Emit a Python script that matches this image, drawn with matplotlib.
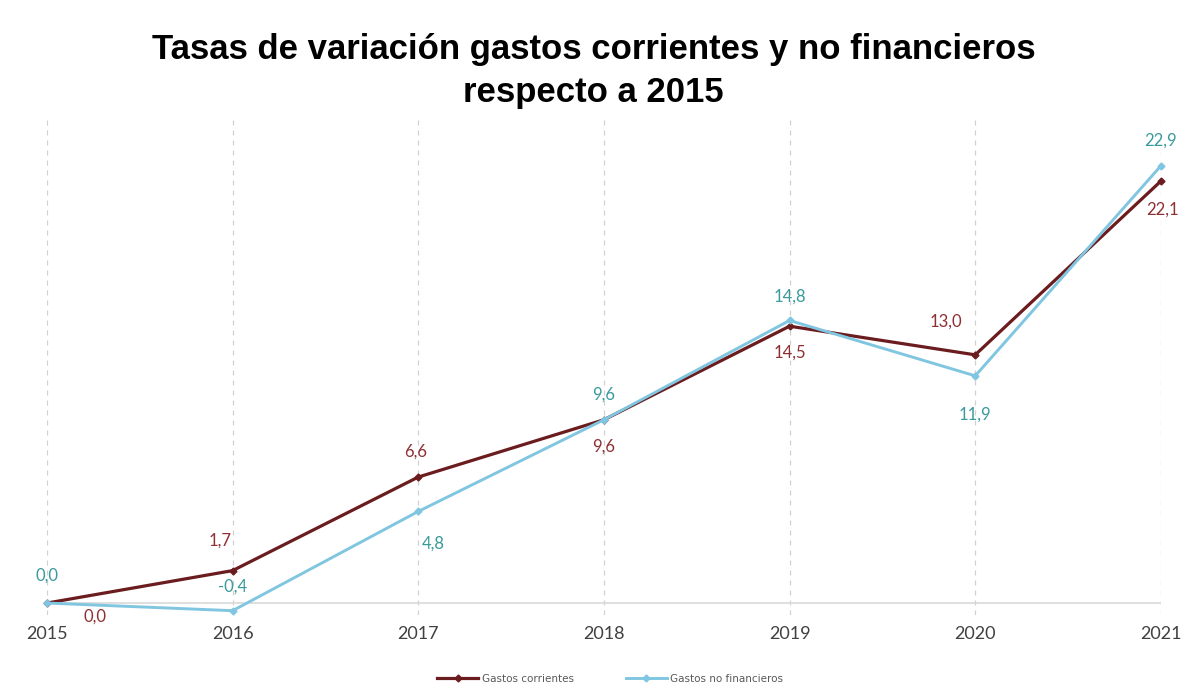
import matplotlib.pyplot as plt

# datos
anios = [2015, 2016, 2017, 2018, 2019, 2020, 2021]
gastos_corrientes = [0.0, 1.7, 6.6, 9.6, 14.5, 13.0, 22.1]
gastos_no_financieros = [0.0, -0.4, 4.8, 9.6, 14.8, 11.9, 22.9]

# desplazamiento de etiquetas (pixeles)
off_corr = [(48, -14), (-13, 30), (-3, 25), (0, -27), (0, -26), (-29, 33), (2, -29)]
off_nof = [(0, 27), (0, 24), (15, -32), (0, 25), (0, 24), (0, -39), (0, 25)]

col_corr = "#6b1c1f"
col_corr_txt = "#8e3033"
col_nof = "#80c6e0"
col_nof_txt = "#3a9a9c"

fig = plt.figure(figsize=(11.87, 6.90), dpi=100)
ax = fig.add_axes([0.0396, 0.1094, 0.9384, 0.7167])

ax.plot(anios, gastos_corrientes, color=col_corr, lw=2.3, marker="D", ms=3.5,
        label="Gastos corrientes", clip_on=False, zorder=3)
ax.plot(anios, gastos_no_financieros, color=col_nof, lw=2.1, marker="D", ms=3.5,
        label="Gastos no financieros", clip_on=False, zorder=4)

for x, v, o in zip(anios, gastos_corrientes, off_corr):
    ax.annotate(f"{v:.1f}".replace(".", ","), (x, v), xytext=o, textcoords="offset pixels",
                ha="center", va="center", color=col_corr_txt, fontsize=12, family="Lato")
for x, v, o in zip(anios, gastos_no_financieros, off_nof):
    ax.annotate(f"{v:.1f}".replace(".", ","), (x, v), xytext=o, textcoords="offset pixels",
                ha="center", va="center", color=col_nof_txt, fontsize=12, family="Lato")

ax.set_xlim(2015, 2021)
ax.set_ylim(-0.6, 25.3)
ax.set_xticks(anios)
ax.set_xticklabels([str(a) for a in anios], fontsize=13, color="#404040", family="Lato")
ax.set_yticks([])
ax.tick_params(axis="x", length=0, pad=8)
for s in ax.spines.values():
    s.set_visible(False)
ax.axhline(0, color="#d9d9d9", lw=1.2, zorder=1)
for a in anios:
    ax.axvline(a, color="#d0d0d0", lw=0.9, ls=(0, (4, 4)), zorder=0)

fig.suptitle("Tasas de variación gastos corrientes y no financieros\nrespecto a 2015",
             x=0.5, y=0.952, va="top", fontsize=25, fontweight="bold",
             family="Liberation Sans", linespacing=1.38)

leg = fig.legend(loc="lower center", bbox_to_anchor=(0.514, -0.005), ncol=2, frameon=False,
                 fontsize=7.5, handlelength=4, columnspacing=5, handletextpad=0.3)
for t in leg.get_texts():
    t.set_color("#595959")

fig.savefig("out.png", dpi=100)
